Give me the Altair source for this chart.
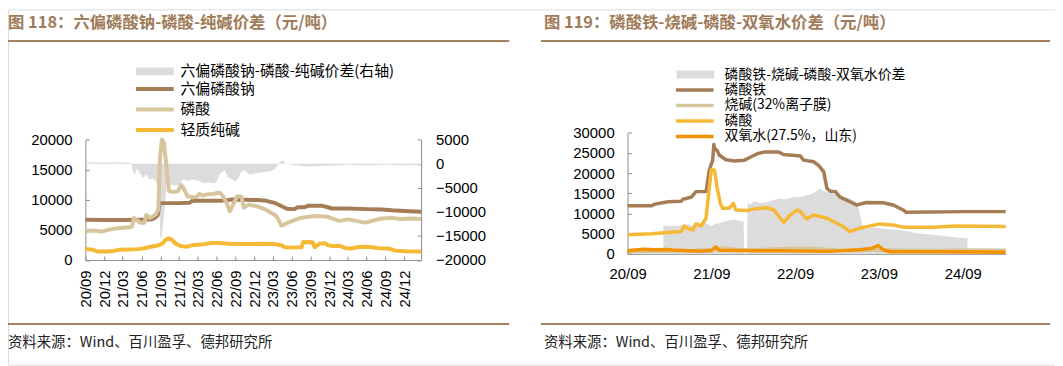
import altair as alt
import pandas as pd

W, H = 1055, 358
CJK = "Noto Sans CJK SC"
AXIS_GRAY = "#8C8C8C"
RULE = "#A5825F"
TITLE = "#A07B5A"

# ---------------- 图118 data ----------------
L_names = ["六偏磷酸钠", "磷酸", "轻质纯碱"]
L_colors = ["#A47C55", "#D7C59E", "#F5B935"]
L_spread_name = "六偏磷酸钠-磷酸-纯碱价差(右轴)"

shmp_dates = ["2020-09-01", "2020-12-01", "2021-03-01", "2021-06-01", "2021-07-20", "2021-08-05",
              "2021-08-20", "2021-08-28", "2021-10-01", "2021-12-01", "2022-01-20", "2022-02-05",
              "2022-04-01", "2022-06-15", "2022-07-15", "2022-08-15", "2022-10-01", "2022-12-15",
              "2023-01-20", "2023-03-10", "2023-04-10", "2023-05-10", "2023-06-15", "2023-07-01",
              "2023-08-01", "2023-08-20", "2023-10-31", "2023-11-20", "2023-12-15", "2024-03-01",
              "2024-06-01", "2024-08-15", "2024-10-01", "2024-12-01", "2025-02-21"]
shmp_vals = [6700, 6650, 6650, 6700, 6750, 7000,
             7500, 9450, 9450, 9450, 9500, 9850,
             9850, 9850, 9900, 10050, 10000, 9950,
             9900, 9500, 9000, 8500, 8450, 8750,
             8750, 9000, 9000, 8800, 8550, 8550,
             8450, 8400, 8250, 8150, 8000]

pa_dates = ["2020-09-01", "2020-10-15", "2020-11-20", "2020-12-20", "2021-01-20", "2021-02-20",
            "2021-03-20", "2021-04-15", "2021-04-25", "2021-05-10", "2021-05-25", "2021-06-15",
            "2021-06-25", "2021-07-10", "2021-07-25", "2021-08-10", "2021-08-22", "2021-08-30",
            "2021-09-08", "2021-09-18", "2021-10-01", "2021-10-12", "2021-11-01", "2021-11-25",
            "2021-12-10", "2021-12-25", "2022-01-10", "2022-02-10", "2022-02-25", "2022-03-10",
            "2022-03-25", "2022-04-15", "2022-05-20", "2022-06-15", "2022-07-01", "2022-07-20",
            "2022-08-05", "2022-08-25", "2022-09-10", "2022-09-30", "2022-10-12", "2022-11-05",
            "2022-12-15", "2023-01-25", "2023-03-20", "2023-04-13", "2023-05-15", "2023-07-15",
            "2023-09-20", "2023-11-20", "2024-01-20", "2024-03-05", "2024-05-25", "2024-08-05",
            "2024-10-01", "2024-11-15", "2025-01-01", "2025-02-21"]
pa_vals = [4800, 4900, 4700, 5000, 5200, 5300,
           5400, 5500, 7000, 6600, 6200, 6200,
           7500, 7000, 7200, 7600, 8400, 17000,
           20000, 19500, 15500, 11500, 11300, 11400,
           12500, 11800, 10600, 10400, 10500, 11000,
           10700, 10900, 11000, 11200, 10700, 9500,
           8100, 9500, 10600, 10500, 8700, 9200,
           8900, 8400, 7300, 5700, 6200, 7000,
           7300, 7200, 6500, 6750, 6200, 6850,
           7000, 6800, 6900, 6800]

soda_dates = ["2020-09-01", "2020-10-01", "2020-11-01", "2020-12-15", "2021-01-15", "2021-02-15",
              "2021-04-01", "2021-05-15", "2021-06-15", "2021-07-15", "2021-08-20", "2021-09-10",
              "2021-09-25", "2021-10-10", "2021-10-25", "2021-11-15", "2021-12-10", "2022-01-10",
              "2022-02-10", "2022-03-20", "2022-05-01", "2022-06-15", "2022-08-01", "2022-10-01",
              "2022-12-01", "2023-01-15", "2023-03-01", "2023-04-10", "2023-05-01", "2023-06-15",
              "2023-07-20", "2023-07-28", "2023-09-12", "2023-09-22", "2023-10-15", "2023-11-10",
              "2023-11-25", "2023-12-20", "2024-01-20", "2024-02-20", "2024-03-15", "2024-05-01",
              "2024-06-15", "2024-08-01", "2024-09-15", "2024-10-20", "2024-12-01", "2025-02-21"]
soda_vals = [1800, 1750, 1400, 1400, 1500, 1700,
             1750, 1800, 1950, 2200, 2400, 2700,
             3300, 3600, 3400, 2700, 2300, 2200,
             2500, 2550, 2800, 2800, 2700, 2650,
             2650, 2700, 2650, 2500, 2100, 2050,
             2100, 3000, 2950, 2100, 2700, 2800,
             2450, 2300, 2350, 1950, 1900, 2200,
             2150, 1950, 1900, 1550, 1450, 1400]

L_spread_dates = ["2020-09-01", "2020-10-15", "2020-12-01", "2021-01-15", "2021-03-01", "2021-04-10",
                  "2021-04-20", "2021-04-28", "2021-05-10", "2021-05-25", "2021-06-10", "2021-06-25",
                  "2021-07-10", "2021-07-25", "2021-08-10", "2021-08-25", "2021-09-01", "2021-09-08",
                  "2021-09-20", "2021-10-01", "2021-10-20", "2021-11-10", "2021-12-01", "2021-12-20",
                  "2022-01-10", "2022-02-01", "2022-03-01", "2022-03-27", "2022-04-27", "2022-05-20",
                  "2022-06-01", "2022-06-15", "2022-07-10", "2022-07-25", "2022-08-15", "2022-09-05",
                  "2022-09-30", "2022-10-15", "2022-11-10", "2022-12-10", "2023-01-15", "2023-02-15",
                  "2023-03-15", "2023-04-08", "2023-04-20", "2023-05-05", "2023-06-20", "2023-08-10",
                  "2023-10-01", "2023-12-01", "2024-03-01", "2024-06-01", "2024-09-01", "2024-12-01",
                  "2025-02-21"]
L_spread_vals = [250, 300, 200, 300, 250, 200,
                 -1500, -2300, -1000, -2000, -3000, -2200,
                 -3400, -3000, -3600, -6000, -15700, -15000,
                 -10000, -4200, -4400, -4600, -4300, -3200,
                 -3600, -3300, -3500, -4000, -3900, -4100,
                 -3800, -2300, -1300, -2700, -3300, -3700,
                 -1650, -1300, -2300, -2000, -1700, -1600,
                 -1000, 400, 700, 0, -300, -600,
                 -500, -400, -200, -300, -200, -300,
                 -200]

L_x_ticks = ["2020-09-01", "2020-12-01", "2021-03-01", "2021-06-01", "2021-09-01", "2021-12-01",
             "2022-03-01", "2022-06-01", "2022-09-01", "2022-12-01", "2023-03-01", "2023-06-01",
             "2023-09-01", "2023-12-01", "2024-03-01", "2024-06-01", "2024-09-01", "2024-12-01"]
L_y_ticks = [0, 5000, 10000, 15000, 20000]
L_y2_ticks = [-20000, -15000, -10000, -5000, 0, 5000]

# ---------------- 图119 data ----------------
R_names = ["磷酸铁", "烧碱(32%离子膜)", "磷酸", "双氧水(27.5%，山东)"]
R_colors = ["#A47C55", "#D7C59E", "#F5B935", "#F39200"]
R_spread_name = "磷酸铁-烧碱-磷酸-双氧水价差"

fp_dates = ["2020-09-01", "2020-12-15", "2020-12-29", "2021-02-25", "2021-04-22", "2021-04-30",
            "2021-06-05", "2021-06-26", "2021-08-09", "2021-08-23", "2021-09-07", "2021-09-12",
            "2021-09-17", "2021-09-26", "2021-10-06", "2021-11-04", "2021-12-10", "2022-01-23",
            "2022-02-20", "2022-03-20", "2022-04-17", "2022-06-22", "2022-07-13", "2022-09-24",
            "2022-10-08", "2022-11-21", "2022-12-13", "2023-01-04", "2023-01-18", "2023-02-02",
            "2023-02-24", "2023-03-15", "2023-04-28", "2023-05-27", "2023-07-09", "2023-09-20",
            "2023-11-03", "2023-12-16", "2023-12-30", "2024-09-15", "2025-03-07"]
fp_vals = [11900, 11900, 12300, 12900, 13000, 13500,
           14000, 15400, 15400, 20700, 23200, 27100,
           26000, 25600, 24400, 23300, 23000, 23200,
           24000, 24800, 25200, 25200, 24600, 24250,
           23200, 22800, 21900, 20300, 16200, 15500,
           15400, 14100, 12900, 12100, 12700, 12650,
           12100, 10850, 10300, 10450, 10450]

naoh_dates = ["2020-09-01", "2021-01-01", "2021-06-01", "2021-09-01", "2021-10-15", "2022-01-01",
              "2022-05-01", "2022-09-01", "2022-12-01", "2023-03-01", "2023-06-01", "2023-09-01",
              "2024-01-01", "2024-06-01", "2024-10-01", "2025-03-07"]
naoh_vals = [500, 600, 700, 1100, 1500, 1000,
             1100, 1400, 1300, 900, 800, 950,
             850, 800, 950, 850]

pa2_dates = ["2020-09-01", "2020-12-15", "2021-04-22", "2021-05-07", "2021-05-21", "2021-06-12",
             "2021-06-26", "2021-07-18", "2021-08-09", "2021-08-19", "2021-09-01", "2021-09-15",
             "2021-09-26", "2021-10-10", "2021-10-20", "2021-11-18", "2021-12-06", "2021-12-17",
             "2022-02-06", "2022-02-20", "2022-05-01", "2022-06-01", "2022-07-13", "2022-08-11",
             "2022-09-10", "2022-09-24", "2022-10-22", "2022-11-21", "2023-01-18", "2023-03-30",
             "2023-04-28", "2023-06-10", "2023-09-05", "2023-11-03", "2023-12-16", "2024-04-22",
             "2024-08-02", "2025-03-07"]
pa2_vals = [4700, 4950, 5500, 6900, 6300, 5900,
            7400, 6900, 8800, 14100, 20900, 20700,
            16600, 12500, 11300, 11300, 12500, 10850,
            10700, 11000, 11400, 10850, 7800, 9600,
            10850, 10450, 8650, 9600, 8800, 6750,
            5500, 6350, 7400, 7150, 6600, 6600,
            6900, 6750]

h2o2_dates = ["2020-09-01", "2020-10-15", "2020-11-15", "2020-12-25", "2021-02-15", "2021-04-07",
              "2021-07-18", "2021-09-01", "2021-09-20", "2021-10-05", "2022-02-20", "2022-07-13",
              "2023-01-18", "2023-06-10", "2023-08-05", "2023-08-29", "2023-09-20", "2023-10-20",
              "2024-04-22", "2025-03-07"]
h2o2_vals = [750, 1000, 1150, 1000, 1050, 850,
             650, 800, 1650, 850, 750, 750,
             600, 1000, 1400, 2050, 1000, 500,
             500, 400]

R_spread_dates = ["2021-02-04", "2021-02-20", "2021-03-10", "2021-03-25", "2021-04-10", "2021-04-22",
                  "2021-05-10", "2021-05-25", "2021-06-10", "2021-06-26", "2021-07-18", "2021-08-05",
                  "2021-08-20", "2021-09-01", "2021-09-15", "2021-10-01", "2021-10-28", "2021-11-15",
                  "2021-12-10", "2021-12-25", "2022-01-20", "2022-01-22", "2022-02-04", "2022-02-06",
                  "2022-02-20", "2022-03-05", "2022-04-01", "2022-05-02", "2022-06-01", "2022-06-29",
                  "2022-07-20", "2022-08-26", "2022-09-20", "2022-10-23", "2022-11-20", "2022-12-05",
                  "2022-12-19", "2023-01-05", "2023-01-18", "2023-02-16", "2023-03-20", "2023-04-28",
                  "2023-05-20", "2023-06-03", "2023-06-17", "2023-06-25", "2023-07-09", "2023-08-10",
                  "2023-09-20", "2023-10-20", "2023-12-01", "2024-01-10", "2024-02-12", "2024-03-20",
                  "2024-04-23", "2024-06-01", "2024-07-04", "2024-08-10", "2024-09-22"]
R_spread_vals = [6900, 7000, 6800, 7100, 6900, 7200,
                 6800, 7300, 7000, 7500, 7400, 7700,
                 7200, 6800, 7300, 7500, 8000, 8200,
                 8500, 8200, 8000, 0, 0, 12500,
                 12300, 13000, 12600, 12800, 13300, 13700,
                 13500, 14100, 14000, 14500, 15000, 15600,
                 16200, 15500, 15300, 14900, 14200, 13700,
                 13000, 11700, 8400, 6700, 6300, 6500,
                 6200, 6000, 5900, 5500, 5100, 4900,
                 4700, 4500, 4300, 4000, 3850]

R_x_ticks = ["2020-09-01", "2021-09-01", "2022-09-01", "2023-09-01", "2024-09-01"]
R_y_ticks = [0, 5000, 10000, 15000, 20000, 25000, 30000]


# ---------------- helpers ----------------
def dt(s):
    y, m, d = (int(p) for p in s.split("-"))
    return alt.DateTime(year=y, month=m, date=d, utc=True)


def frame(dates, vals, name):
    return pd.DataFrame({"date": dates, "value": vals, "series": name})


AX = dict(grid=False, domainColor=AXIS_GRAY, tickColor=AXIS_GRAY, domainWidth=1, tickWidth=1,
          labelFont="Liberation Sans", labelFontSize=15, labelColor="#000000", title=None)


def label_axis(orient, offset, values, fmt, padding, angle=0):
    return alt.Axis(orient=orient, offset=offset, values=values, format=fmt, labelPadding=padding,
                    labelAngle=angle, ticks=False, tickSize=0, domain=True, labelFlush=False,
                    labelOverlap=False, labelBound=False, **AX)


def tick_axis(orient, offset, values):
    return alt.Axis(orient=orient, offset=offset, values=values, labels=False, domain=False,
                    ticks=True, tickSize=4, **AX)


# symbol paths are scaled by sqrt(symbolSize)/2 = 2 px, giving 38 px wide swatches
LINE_SYM = "M-9.5,0L9.5,0"
RECT_SYM = "M-9.5,-2L9.5,-2L9.5,2L-9.5,2Z"


def legend(x, y, symbol, sw, sym_offset, label_offset, row_padding, font_size):
    return alt.Legend(orient="none", legendX=x, legendY=y, title=None, symbolType=symbol,
                      symbolSize=16, symbolStrokeWidth=sw, symbolOffset=sym_offset,
                      labelOffset=label_offset, rowPadding=row_padding, padding=0,
                      labelFont=CJK, labelFontSize=font_size, labelColor="#000000",
                      labelLimit=600, symbolOpacity=1)


# ---------------- scales ----------------
LX = alt.Scale(type="utc", domain=[dt("2020-09-01"), dt("2025-02-21")], range=[78, 416.3], nice=False)
LY = alt.Scale(domain=[0, 20000], range=[252.5, 131.3], nice=False, zero=False)
LY2 = alt.Scale(domain=[-20000, 5000], range=[252.5, 131.3], nice=False, zero=False)
RX = alt.Scale(type="utc", domain=[dt("2020-09-01"), dt("2025-03-07")], range=[624.3, 1005.3], nice=False)
RY = alt.Scale(domain=[0, 30000], range=[246.3, 124.3], nice=False, zero=False)

L_df = pd.concat([frame(shmp_dates, shmp_vals, L_names[0]),
                  frame(pa_dates, pa_vals, L_names[1]),
                  frame(soda_dates, soda_vals, L_names[2])], ignore_index=True)
L_sp = frame(L_spread_dates, L_spread_vals, L_spread_name)
R_df = pd.concat([frame(fp_dates, fp_vals, R_names[0]),
                  frame(naoh_dates, naoh_vals, R_names[1]),
                  frame(pa2_dates, pa2_vals, R_names[2]),
                  frame(h2o2_dates, h2o2_vals, R_names[3])], ignore_index=True)
R_sp = frame(R_spread_dates, R_spread_vals, R_spread_name)

Lxt = [dt(s) for s in L_x_ticks]
Rxt = [dt(s) for s in R_x_ticks]

# ---------------- left panel ----------------
l_area = alt.Chart(L_sp).mark_area(opacity=1).encode(
    x=alt.X("date:T", scale=LX, axis=tick_axis("top", -252.5, Lxt)),
    y=alt.Y("value:Q", scale=LY2, axis=label_axis("right", 416.3 - W, L_y2_ticks, "d", 14.5)),
    y2=alt.datum(0),
    color=alt.Color("series:N", scale=alt.Scale(domain=[L_spread_name], range=["#DCDCDC"]),
                    legend=legend(129, 55, RECT_SYM, 0, 11.5, 18.2, 0, 15)),
)
l_lines = alt.Chart(L_df).mark_line(strokeWidth=4, strokeJoin="round").encode(
    x=alt.X("date:T", scale=LX, axis=label_axis("bottom", 252.5 - H, Lxt, "%y/%m", 10, 270)),
    y=alt.Y("value:Q", scale=LY, axis=label_axis("left", -78, L_y_ticks, "d", 13.5)),
    color=alt.Color("series:N", scale=alt.Scale(domain=L_names, range=L_colors),
                    legend=legend(129, 72.8, LINE_SYM, 4, 11.5, 18.2, 3.6, 15)),
)
l_ytick = alt.Chart(L_df).mark_line(opacity=0).encode(
    x=alt.X("date:T", scale=LX, axis=None),
    y=alt.Y("value:Q", scale=LY, axis=tick_axis("right", 78 - W, L_y_ticks)),
)
l_y2tick = alt.Chart(L_sp).mark_line(opacity=0).encode(
    x=alt.X("date:T", scale=LX, axis=None),
    y=alt.Y("value:Q", scale=LY2, axis=tick_axis("left", -416.3, L_y2_ticks)),
)

# ---------------- right panel ----------------
r_area = alt.Chart(R_sp).mark_area(opacity=1).encode(
    x=alt.X("date:T", scale=RX, axis=tick_axis("top", -246.3, Rxt)),
    y=alt.Y("value:Q", scale=RY, axis=tick_axis("right", 624.3 - W, R_y_ticks)),
    y2=alt.datum(0),
    color=alt.Color("series:N", scale=alt.Scale(domain=[R_spread_name], range=["#DCDCDC"]),
                    legend=legend(673.7, 58.7, RECT_SYM, 0, 12, 22.3, 0, 14)),
)
r_lines = alt.Chart(R_df).mark_line(strokeWidth=3.5, strokeJoin="round").encode(
    x=alt.X("date:T", scale=RX, axis=label_axis("bottom", 246.3 - H, Rxt, "%y/%m", 12.5)),
    y=alt.Y("value:Q", scale=RY, axis=label_axis("left", -624.3, R_y_ticks, "d", 13.5)),
    color=alt.Color("series:N", scale=alt.Scale(domain=R_names, range=R_colors),
                    legend=legend(673, 74.3, LINE_SYM, 3.5, 12, 23, 1.6, 14)),
)

# ---------------- titles, rules, sources ----------------
one = pd.DataFrame({"k": [0]})


def txt(s, x, y, size, weight, color):
    return alt.Chart(one).mark_text(text=s, align="left", baseline="middle", font=CJK, fontSize=size,
                                    fontWeight=weight, color=color).encode(x=alt.value(x), y=alt.value(y))


def hrule(x1, x2, y):
    return alt.Chart(one).mark_rule(color=RULE, strokeWidth=2).encode(
        x=alt.value(x1), x2=alt.value(x2), y=alt.value(y))


decor = [
    txt("图 118：六偏磷酸钠-磷酸-纯碱价差（元/吨）", 0, 14, 16.5, "bold", TITLE),
    txt("图 119：磷酸铁-烧碱-磷酸-双氧水价差（元/吨）", 540, 14, 16.5, "bold", TITLE),
    hrule(0, 505, 32), hrule(537, 1050, 32),
    hrule(0, 505, 317), hrule(537, 1050, 317),
    txt("资料来源：Wind、百川盈孚、德邦研究所", 0, 336, 14.5, "normal", "#222222"),
    txt("资料来源：Wind、百川盈孚、德邦研究所", 540, 336, 14.5, "normal", "#222222"),
]

chart = alt.layer(l_area, l_lines, l_ytick, l_y2tick, r_area, r_lines, *decor).resolve_scale(
    x="independent", y="independent", color="independent"
).resolve_axis(x="independent", y="independent").properties(
    width=W, height=H, autosize=alt.AutoSizeParams(type="none"), padding=0
).configure_view(stroke=None).configure(background="white")

chart.save("out.html", embed_options={"renderer": "svg", "actions": False})
